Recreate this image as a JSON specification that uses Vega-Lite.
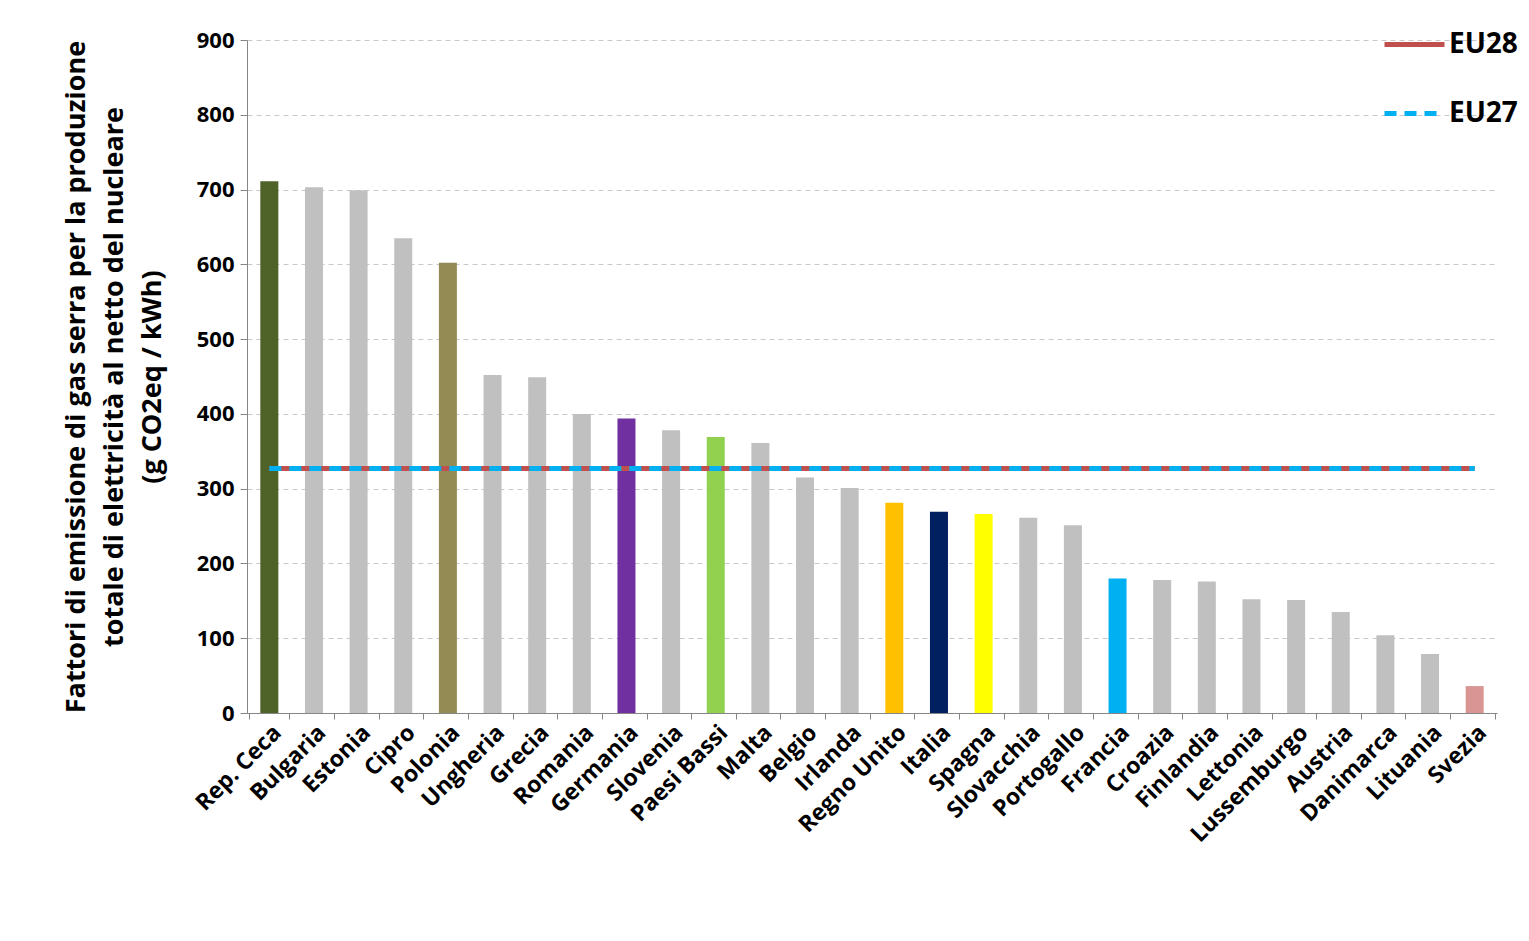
{
"$schema":"https://vega.github.io/schema/vega-lite/v6.json",
"width":1250,"height":673,
"autosize":{"type":"none"},
"padding":{"left":247,"top":40,"right":32,"bottom":228},
"background":"white",
"config":{"view":{"stroke":null},"font":"Open Sans"},
"datasets":{
"bars":[
{"c":"Rep. Ceca","v":711,"col":"#4f6228"},
{"c":"Bulgaria","v":703,"col":"#c0c0c0"},
{"c":"Estonia","v":699,"col":"#c0c0c0"},
{"c":"Cipro","v":635,"col":"#c0c0c0"},
{"c":"Polonia","v":602,"col":"#948a54"},
{"c":"Ungheria","v":452,"col":"#c0c0c0"},
{"c":"Grecia","v":449,"col":"#c0c0c0"},
{"c":"Romania","v":400,"col":"#c0c0c0"},
{"c":"Germania","v":394,"col":"#7030a0"},
{"c":"Slovenia","v":378,"col":"#c0c0c0"},
{"c":"Paesi Bassi","v":369,"col":"#92d050"},
{"c":"Malta","v":361,"col":"#c0c0c0"},
{"c":"Belgio","v":315,"col":"#c0c0c0"},
{"c":"Irlanda","v":301,"col":"#c0c0c0"},
{"c":"Regno Unito","v":281,"col":"#ffc000"},
{"c":"Italia","v":269,"col":"#002060"},
{"c":"Spagna","v":266,"col":"#ffff00"},
{"c":"Slovacchia","v":261,"col":"#c0c0c0"},
{"c":"Portogallo","v":251,"col":"#c0c0c0"},
{"c":"Francia","v":180,"col":"#00b0f0"},
{"c":"Croazia","v":178,"col":"#c0c0c0"},
{"c":"Finlandia","v":176,"col":"#c0c0c0"},
{"c":"Lettonia","v":152,"col":"#c0c0c0"},
{"c":"Lussemburgo","v":151,"col":"#c0c0c0"},
{"c":"Austria","v":135,"col":"#c0c0c0"},
{"c":"Danimarca","v":104,"col":"#c0c0c0"},
{"c":"Lituania","v":79,"col":"#c0c0c0"},
{"c":"Svezia","v":36,"col":"#d99594"}],
"lines":[
{"s":"EU28","a":"Rep. Ceca","b":"Svezia","v":327},
{"s":"EU27","a":"Rep. Ceca","b":"Svezia","v":327}]
},
"layer":[
{"data":{"name":"bars"},"mark":{"type":"bar","width":18},
"encoding":{
"x":{"field":"c","type":"nominal","sort":null,"title":null,
"axis":{"labelAngle":-45,"labelFont":"Open Sans","labelFontWeight":"bold","labelFontSize":23,"labelColor":"black","domainColor":"#868686","tickColor":"#868686","tickBand":"extent","tickSize":6,"labelPadding":2}},
"y":{"field":"v","type":"quantitative","scale":{"domain":[0,900]},
"axis":{"values":[0,100,200,300,400,500,600,700,800,900],"grid":true,"gridDash":[5,4],"gridColor":"#c8c8c8","domain":true,"domainColor":"#868686","tickColor":"#868686","tickSize":7,"labelFontSize":22,"labelFontWeight":"bold","labelColor":"black","labelPadding":6,
"title":["Fattori di emissione di gas serra per la produzione","totale di elettricità al netto del nucleare","(g CO2eq / kWh)"],
"titleFontSize":27,"titleFontWeight":"bold","titleColor":"black","titlePadding":30,"titleLineHeight":38}},
"color":{"field":"col","type":"nominal","scale":null}}},
{"data":{"name":"lines"},"mark":{"type":"rule","strokeWidth":5},
"encoding":{
"x":{"field":"a","type":"nominal","sort":null},
"x2":{"field":"b"},
"y":{"field":"v","type":"quantitative"},
"color":{"field":"s","type":"nominal","scale":{"domain":["EU28","EU27"],"range":["#c0504d","#00b0f0"]},"title":null,
"legend":{"orient":"none","legendX":1135,"legendY":-28,"symbolType":"stroke","symbolSize":3600,"symbolStrokeWidth":5,"labelFontSize":28,"labelFontWeight":"bold","labelColor":"black","rowPadding":22,"labelOffset":2}},
"strokeDash":{"field":"s","type":"nominal","scale":{"domain":["EU28","EU27"],"range":[[1,0],[12,8]]},"title":null}}}
]
}
